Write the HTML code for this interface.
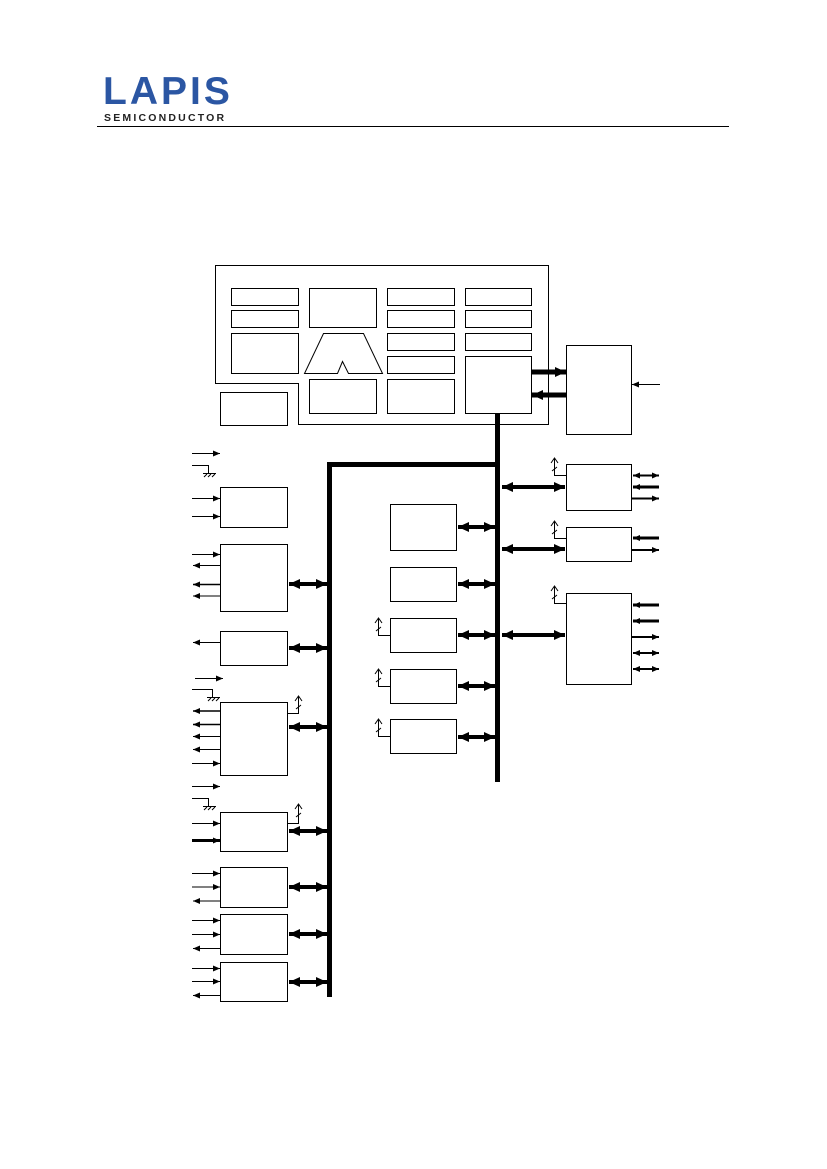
<!DOCTYPE html>
<html><head><meta charset="utf-8"><style>
html,body{margin:0;padding:0;background:#fff;}
body{width:827px;height:1169px;position:relative;overflow:hidden;}
.l1{position:absolute;left:103px;top:70px;font:bold 39px "Liberation Sans",sans-serif;color:#2b56a3;letter-spacing:3px;}
.l2{position:absolute;left:104px;top:112px;font:bold 10.5px "Liberation Sans",sans-serif;color:#222;letter-spacing:2.2px;}
svg{position:absolute;left:0;top:0;}
</style></head><body>
<div class="l1">LAPIS</div>
<div class="l2">SEMICONDUCTOR</div>
<svg width="827" height="1169" viewBox="0 0 827 1169">
<defs>
<marker id="a" viewBox="0 0 10 10" refX="10" refY="5" markerWidth="7" markerHeight="6" markerUnits="userSpaceOnUse" orient="auto-start-reverse" preserveAspectRatio="none"><path d="M0,0L10,5L0,10z" fill="#000"/></marker>
<marker id="b" viewBox="0 0 10 10" refX="10" refY="5" markerWidth="11" markerHeight="10" markerUnits="userSpaceOnUse" orient="auto-start-reverse" preserveAspectRatio="none"><path d="M0,0L10,5L0,10z" fill="#000"/></marker>
</defs>
<line x1="97" y1="126.5" x2="729" y2="126.5" stroke="#000" stroke-width="1"/>
<g fill="none" stroke="#000" stroke-width="1">
<path d="M215.5,265.5H548.5V424.5H298.5V383.5H215.5Z"/>
<rect x="231.5" y="288.5" width="67" height="17"/>
<rect x="231.5" y="310.5" width="67" height="17"/>
<rect x="231.5" y="333.5" width="67" height="40"/>
<rect x="309.5" y="288.5" width="67" height="39"/>
<path d="M323.5,333.5H363.5L382.5,373.5H348.5L342.5,361.5L337.5,373.5H304.5Z"/>
<rect x="309.5" y="379.5" width="67" height="34"/>
<rect x="387.5" y="288.5" width="67" height="17"/>
<rect x="387.5" y="310.5" width="67" height="17"/>
<rect x="387.5" y="333.5" width="67" height="17"/>
<rect x="387.5" y="356.5" width="67" height="17"/>
<rect x="387.5" y="379.5" width="67" height="34"/>
<rect x="465.5" y="288.5" width="66" height="17"/>
<rect x="465.5" y="310.5" width="66" height="17"/>
<rect x="465.5" y="333.5" width="66" height="17"/>
<rect x="465.5" y="356.5" width="66" height="57"/>
<rect x="220.5" y="392.5" width="67" height="33"/>
<rect x="566.5" y="345.5" width="65" height="89"/>
<rect x="566.5" y="464.5" width="65" height="46"/>
<rect x="566.5" y="527.5" width="65" height="34"/>
<rect x="566.5" y="593.5" width="65" height="91"/>
<rect x="390.5" y="504.5" width="66" height="46"/>
<rect x="390.5" y="567.5" width="66" height="34"/>
<rect x="390.5" y="618.5" width="66" height="34"/>
<rect x="390.5" y="669.5" width="66" height="34"/>
<rect x="390.5" y="719.5" width="66" height="34"/>
<rect x="220.5" y="487.5" width="67" height="40"/>
<rect x="220.5" y="544.5" width="67" height="67"/>
<rect x="220.5" y="631.5" width="67" height="34"/>
<rect x="220.5" y="702.5" width="67" height="73"/>
<rect x="220.5" y="812.5" width="67" height="39"/>
<rect x="220.5" y="867.5" width="67" height="40"/>
<rect x="220.5" y="914.5" width="67" height="40"/>
<rect x="220.5" y="962.5" width="67" height="39"/>
</g>
<g fill="none" stroke="#000" stroke-width="5">
<line x1="497.5" y1="413" x2="497.5" y2="782"/>
<path d="M329.5,997V464.5H497"/>
</g>
<g stroke="#000" stroke-width="5" fill="none">
<line x1="531" y1="372" x2="566" y2="372" marker-end="url(#b)"/>
<line x1="566" y1="395" x2="532" y2="395" marker-end="url(#b)"/>
</g>
<line x1="660" y1="384.5" x2="632" y2="384.5" stroke="#000" stroke-width="1" marker-end="url(#a)"/>
<g stroke="#000" stroke-width="4" fill="none">
<line x1="502" y1="487" x2="565" y2="487" marker-start="url(#b)" marker-end="url(#b)"/>
<line x1="502" y1="549" x2="565" y2="549" marker-start="url(#b)" marker-end="url(#b)"/>
<line x1="502" y1="635" x2="565" y2="635" marker-start="url(#b)" marker-end="url(#b)"/>
<line x1="458" y1="527" x2="495" y2="527" marker-start="url(#b)" marker-end="url(#b)"/>
<line x1="458" y1="584" x2="495" y2="584" marker-start="url(#b)" marker-end="url(#b)"/>
<line x1="458" y1="635" x2="495" y2="635" marker-start="url(#b)" marker-end="url(#b)"/>
<line x1="458" y1="686" x2="495" y2="686" marker-start="url(#b)" marker-end="url(#b)"/>
<line x1="458" y1="737" x2="495" y2="737" marker-start="url(#b)" marker-end="url(#b)"/>
<line x1="289" y1="584" x2="327" y2="584" marker-start="url(#b)" marker-end="url(#b)"/>
<line x1="289" y1="648" x2="327" y2="648" marker-start="url(#b)" marker-end="url(#b)"/>
<line x1="289" y1="727" x2="327" y2="727" marker-start="url(#b)" marker-end="url(#b)"/>
<line x1="289" y1="831" x2="327" y2="831" marker-start="url(#b)" marker-end="url(#b)"/>
<line x1="289" y1="887" x2="327" y2="887" marker-start="url(#b)" marker-end="url(#b)"/>
<line x1="289" y1="934" x2="327" y2="934" marker-start="url(#b)" marker-end="url(#b)"/>
<line x1="289" y1="982" x2="327" y2="982" marker-start="url(#b)" marker-end="url(#b)"/>
</g>
<g stroke="#000" fill="none">
<line x1="633" y1="475.5" x2="659" y2="475.5" stroke-width="2" marker-start="url(#a)" marker-end="url(#a)"/>
<line x1="659" y1="487" x2="633" y2="487" stroke-width="3" marker-end="url(#a)"/>
<line x1="632" y1="498.5" x2="659" y2="498.5" stroke-width="2" marker-end="url(#a)"/>
<line x1="659" y1="538" x2="633" y2="538" stroke-width="3" marker-end="url(#a)"/>
<line x1="632" y1="550" x2="659" y2="550" stroke-width="2" marker-end="url(#a)"/>
<line x1="659" y1="605" x2="633" y2="605" stroke-width="3" marker-end="url(#a)"/>
<line x1="659" y1="621" x2="633" y2="621" stroke-width="3" marker-end="url(#a)"/>
<line x1="632" y1="637" x2="659" y2="637" stroke-width="2" marker-end="url(#a)"/>
<line x1="633" y1="653" x2="659" y2="653" stroke-width="2" marker-start="url(#a)" marker-end="url(#a)"/>
<line x1="633" y1="669" x2="659" y2="669" stroke-width="2" marker-start="url(#a)" marker-end="url(#a)"/>
</g>
<g stroke="#000" stroke-width="1" fill="none">
<path d="M566,475.5H554.5V459M551,463L554.5,458L558,463M552,471L557,467"/>
<path d="M566,538.5H554.5V522M551,526L554.5,521L558,526M552,534L557,530"/>
<path d="M566,603.5H554.5V587M551,591L554.5,586L558,591M552,599L557,595"/>
<path d="M390,635.5H378.5V619M375,623L378.5,618L382,623M376,631L381,627"/>
<path d="M390,686.5H378.5V670M375,674L378.5,669L382,674M376,682L381,678"/>
<path d="M390,736.5H378.5V720M375,724L378.5,719L382,724M376,732L381,728"/>
<path d="M288,713.5H298.5V697M295,701L298.5,696L302,701M296,709L301,705"/>
<path d="M288,823.5H298.5V805M295,809L298.5,804L302,809M296,817L301,813"/>
</g>
<g stroke="#000" stroke-width="1" fill="none">
<path d="M192,465.5H208.5V473M203,473.5H216M204,477L207,474M208,477L211,474M212,477L215,474"/>
<path d="M192,689.5H212.5V697M207,697.5H220M208,701L211,698M212,701L215,698M216,701L219,698"/>
<path d="M192,798.5H208.5V806M203,806.5H216M204,810L207,807M208,810L211,807M212,810L215,807"/>
</g>
<g stroke="#000" stroke-width="1" fill="none">
<line x1="192" y1="453.5" x2="220" y2="453.5" marker-end="url(#a)"/>
<line x1="192" y1="498.5" x2="220" y2="498.5" marker-end="url(#a)"/>
<line x1="192" y1="516.5" x2="220" y2="516.5" marker-end="url(#a)"/>
<line x1="192" y1="554.5" x2="220" y2="554.5" marker-end="url(#a)"/>
<line x1="220" y1="565.5" x2="193" y2="565.5" marker-end="url(#a)"/>
<line x1="220" y1="584.5" x2="193" y2="584.5" stroke-width="1.5" marker-end="url(#a)"/>
<line x1="220" y1="596" x2="193" y2="596" marker-end="url(#a)"/>
<line x1="220" y1="642.5" x2="193" y2="642.5" marker-end="url(#a)"/>
<line x1="195" y1="678.5" x2="223" y2="678.5" marker-end="url(#a)"/>
<line x1="220" y1="711" x2="193" y2="711" stroke-width="1.5" marker-end="url(#a)"/>
<line x1="220" y1="724.5" x2="193" y2="724.5" stroke-width="1.5" marker-end="url(#a)"/>
<line x1="220" y1="736.5" x2="193" y2="736.5" marker-end="url(#a)"/>
<line x1="220" y1="749.5" x2="193" y2="749.5" marker-end="url(#a)"/>
<line x1="192" y1="763.5" x2="220" y2="763.5" marker-end="url(#a)"/>
<line x1="192" y1="786.5" x2="220" y2="786.5" marker-end="url(#a)"/>
<line x1="192" y1="823.5" x2="220" y2="823.5" marker-end="url(#a)"/>
<line x1="192" y1="840.5" x2="220" y2="840.5" stroke-width="3" marker-end="url(#a)"/>
<line x1="192" y1="873.5" x2="220" y2="873.5" marker-end="url(#a)"/>
<line x1="192" y1="887" x2="220" y2="887" marker-end="url(#a)"/>
<line x1="220" y1="901" x2="193" y2="901" marker-end="url(#a)"/>
<line x1="192" y1="920.5" x2="220" y2="920.5" marker-end="url(#a)"/>
<line x1="192" y1="934.5" x2="220" y2="934.5" marker-end="url(#a)"/>
<line x1="220" y1="948.5" x2="193" y2="948.5" marker-end="url(#a)"/>
<line x1="192" y1="968.5" x2="220" y2="968.5" marker-end="url(#a)"/>
<line x1="192" y1="981.5" x2="220" y2="981.5" marker-end="url(#a)"/>
<line x1="220" y1="995.5" x2="193" y2="995.5" marker-end="url(#a)"/>
</g>
</svg>
</body></html>
